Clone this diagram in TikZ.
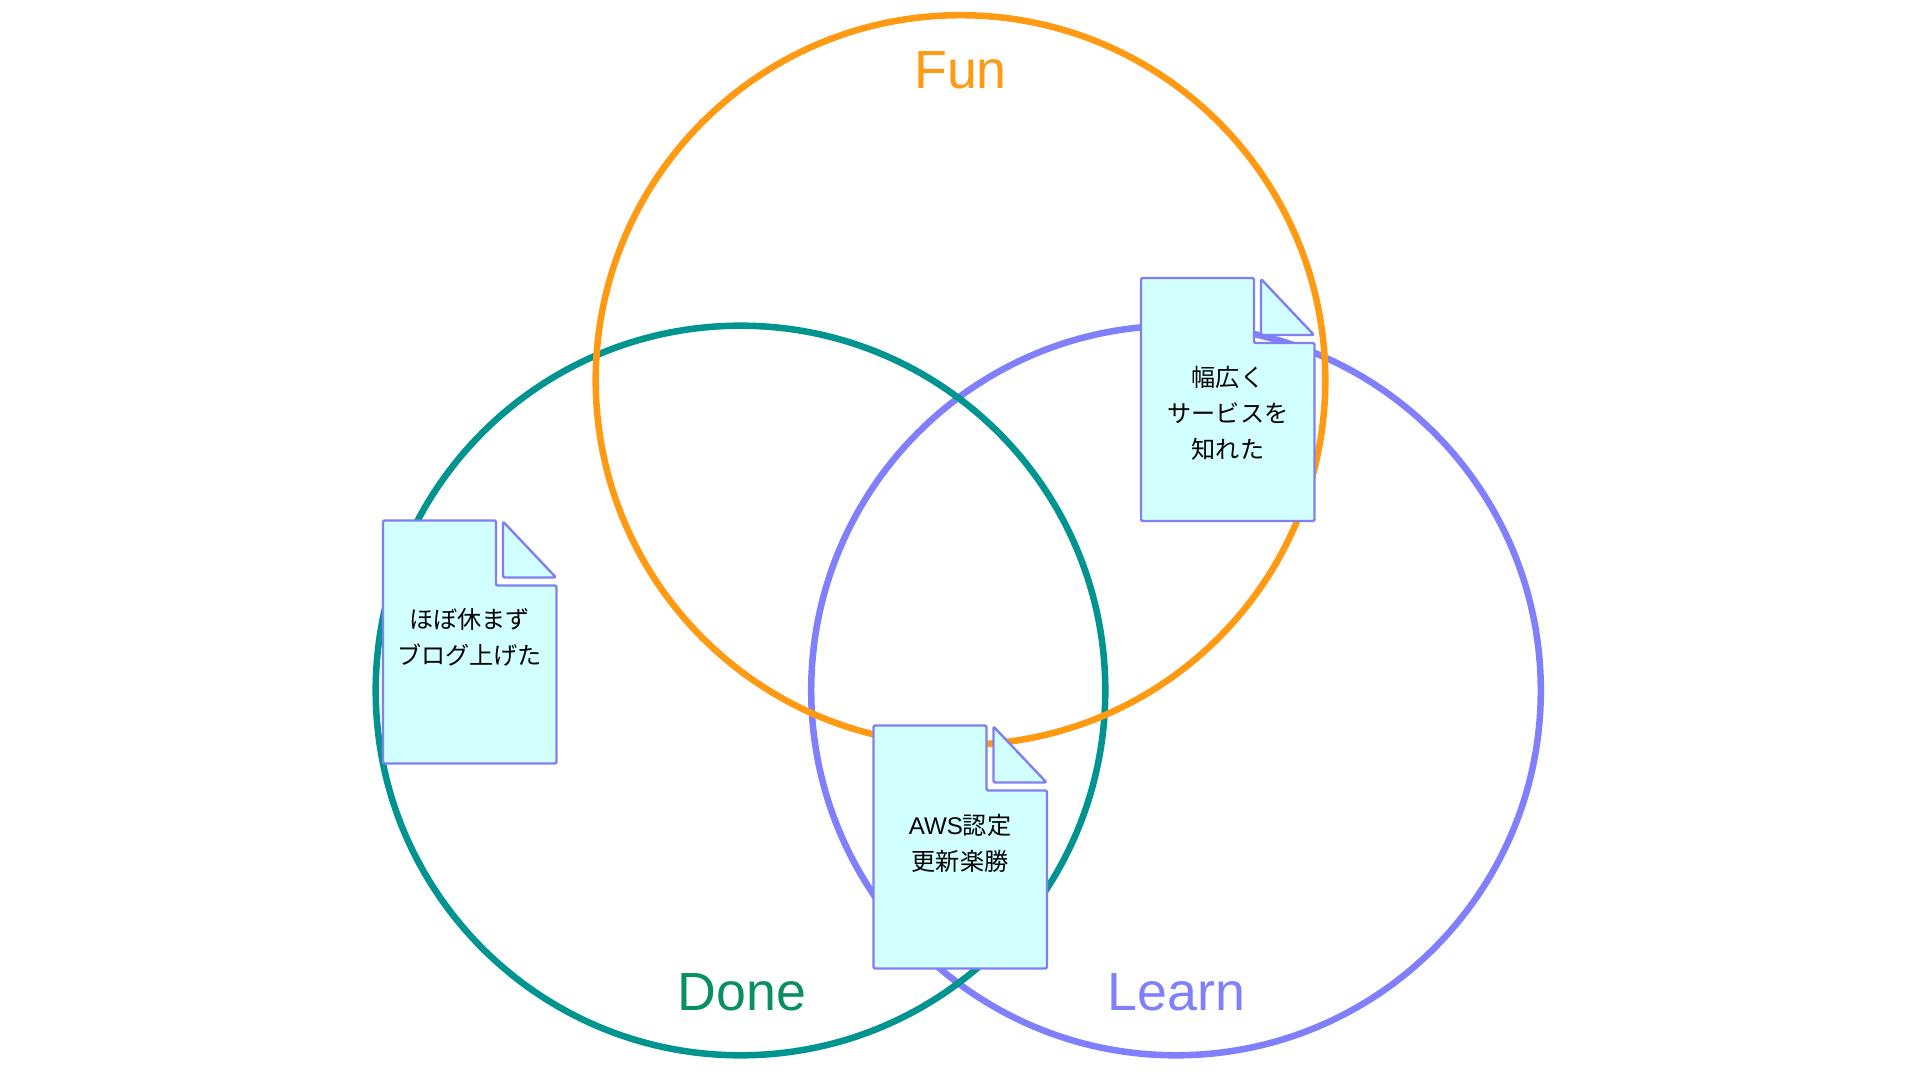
\documentclass[tikz,border=0pt]{standalone}
\usepackage{fontspec}
\setmainfont{Liberation Sans}
\newfontfamily\cjk{Noto Sans CJK JP}
\definecolor{func}{HTML}{FF9A12}
\definecolor{donec}{HTML}{009490}
\definecolor{learnc}{HTML}{8080FF}
\definecolor{donet}{HTML}{0A9060}
\definecolor{docb}{HTML}{8080F0}
\definecolor{docf}{HTML}{D2FFFF}
\newcommand{\docpage}[2]{%
  \begin{scope}[shift={(#1,#2)}]
    \draw[docshape] (0,0) -- (113,0) -- (113,65) -- (173.5,65) -- (173.5,243) -- (0,243) -- cycle;
    \draw[docshape] (120,1) -- (120,57) -- (173,57) -- cycle;
  \end{scope}}
\tikzset{
  ring/.style={line width=4.9pt},
  docshape/.style={draw=docb,fill=docf,line width=1.8pt,line join=round,rounded corners=1pt},
  biglabel/.style={font=\fontsize{40.3pt}{44pt}\selectfont,inner sep=0pt,anchor=center},
  doctext/.style={font=\fontsize{18.1pt}{27pt}\selectfont\cjk,align=center,inner sep=0pt,anchor=center,text=black}
}
\begin{document}
\begin{tikzpicture}[x=0.75pt,y=-0.75pt]
\useasboundingbox (0,0) rectangle (1920,1080);
\fill[white] (0,0) rectangle (1920,1080);
\draw[ring,learnc] (1176,690.5) circle [radius=273.6pt];
\draw[ring,donec] (740.5,690.5) circle [radius=273.6pt];
\draw[ring,func] (960.5,380) circle [radius=273.6pt];
\node[biglabel,text=func] (fun) at (960.5,70) {Fun};
\node[biglabel,text=donet] (done) at (742,992) {Done};
\node[biglabel,text=learnc] (learn) at (1176.5,992) {Learn};
\docpage{383}{520.5}
\docpage{873.5}{725.5}
\docpage{1141}{278}
\node[doctext] (a) at (469.5,637) {ほぼ休まず\\ブログ上げた};
\node[doctext] (b) at (960,843) {{\rmfamily AWS}認定\\更新楽勝};
\node[doctext] (c) at (1228,413.5) {幅広く\\サービスを\\知れた};
\end{tikzpicture}
\end{document}
